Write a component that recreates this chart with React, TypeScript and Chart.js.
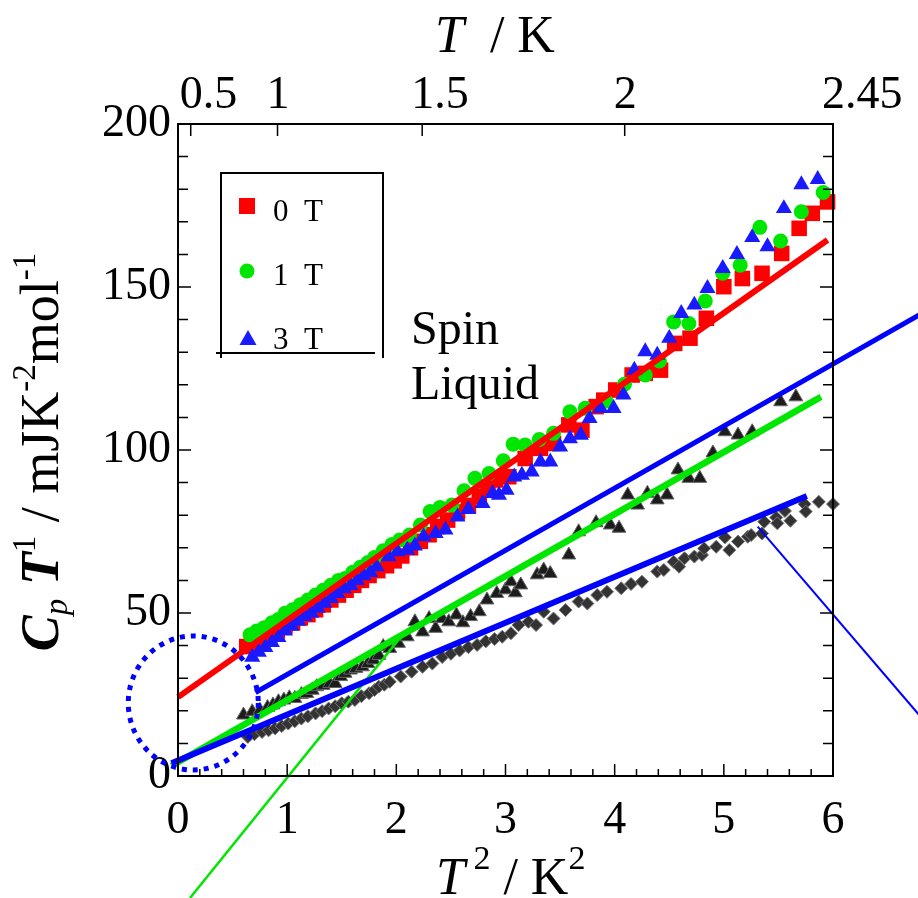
import React, { useEffect, useRef } from "react";
import { Chart, registerables } from "chart.js";

Chart.register(...registerables);

const SERIF = '"Liberation Serif", "Times New Roman", serif';

// ---- Data ----
// 0 T (red squares)
const RED_X = [0.63, 0.70, 0.77, 0.84, 0.91, 0.98, 1.05, 1.12, 1.19, 1.26, 1.33, 1.40, 1.47, 1.54, 1.61, 1.68, 1.75, 1.83, 1.91, 1.98, 2.05, 2.13, 2.22, 2.30, 2.38, 2.47, 2.56, 2.66, 2.76, 2.84, 2.91, 3.03, 3.18, 3.32, 3.44, 3.58, 3.70, 3.83, 3.90, 4.01, 4.16, 4.28, 4.42, 4.55, 4.69, 4.84, 5.00, 5.17, 5.35, 5.53, 5.69, 5.81, 5.95];
const RED_Y = [39.7, 40.5, 41.5, 43, 44.5, 46, 47, 48.5, 49.5, 51, 52.5, 54, 55.5, 57, 58.5, 60, 61.5, 63, 64.5, 66, 67.5, 70, 72, 74, 76.5, 78.5, 81, 83, 85.7, 88.5, 90.8, 91.8, 97.4, 100.5, 102, 107.7, 106.1, 113.3, 115.3, 118.4, 123, 123.5, 124.5, 132.7, 134.3, 140.4, 150.1, 152.6, 154.2, 160.3, 168, 172.6, 176.1];

// 1 T (green circles)
const GREEN_X = [0.66, 0.72, 0.79, 0.86, 0.92, 0.98, 1.05, 1.12, 1.19, 1.26, 1.33, 1.40, 1.47, 1.53, 1.60, 1.67, 1.74, 1.80, 1.88, 1.96, 2.03, 2.12, 2.22, 2.31, 2.40, 2.51, 2.62, 2.72, 2.85, 2.98, 3.07, 3.18, 3.31, 3.44, 3.59, 3.73, 3.92, 4.09, 4.28, 4.41, 4.54, 4.68, 4.83, 4.99, 5.15, 5.33, 5.52, 5.71, 5.91];
const GREEN_Y = [43.3, 44.5, 45.5, 47, 48, 49.9, 51, 52.5, 54, 55.5, 57, 58.5, 60, 60.6, 62.5, 64, 65.5, 67, 69.1, 71, 72.4, 73.9, 77, 81.1, 82.4, 83.1, 87.5, 91.3, 92.8, 96.7, 101.8, 101.5, 103.2, 105.1, 111.7, 112.8, 115, 120.2, 123, 127.3, 139.3, 138.8, 145.7, 154.2, 156.7, 168.3, 164.1, 173.1, 179];

// 3 T (blue triangles)
const BLUE_X = [0.68, 0.74, 0.80, 0.86, 0.92, 0.98, 1.04, 1.10, 1.16, 1.22, 1.28, 1.34, 1.40, 1.46, 1.52, 1.58, 1.64, 1.70, 1.76, 1.82, 1.93, 2.01, 2.10, 2.17, 2.25, 2.36, 2.45, 2.56, 2.66, 2.79, 2.88, 2.94, 3.01, 3.08, 3.15, 3.24, 3.32, 3.41, 3.50, 3.59, 3.69, 3.77, 3.87, 3.99, 4.08, 4.18, 4.28, 4.39, 4.50, 4.61, 4.73, 4.85, 4.99, 5.12, 5.26, 5.40, 5.55, 5.71, 5.86];
const BLUE_Y = [36.5, 38, 39.5, 41, 42.5, 44.5, 46, 47.5, 49, 50, 51.5, 53, 54.5, 56, 57.5, 58.5, 60, 61.5, 62.5, 64.2, 67.3, 68.8, 69.3, 70.6, 73.4, 74.4, 75.5, 79.5, 81.8, 83.6, 86.7, 86.2, 87.7, 91.8, 92.3, 93.3, 96.4, 96.4, 101, 103.5, 104.6, 109.7, 112.8, 112.8, 116.9, 124.5, 130.2, 129.1, 134.3, 141.9, 144.5, 149.6, 155.7, 160, 165.2, 162.4, 174.1, 181.4, 183];

// black triangles (second sample)
const BLACK_X = [0.60, 0.68, 0.75, 0.82, 0.87, 0.92, 0.97, 1.02, 1.07, 1.13, 1.18, 1.23, 1.27, 1.33, 1.39, 1.44, 1.49, 1.53, 1.58, 1.63, 1.69, 1.74, 1.79, 1.84, 1.88, 1.94, 2.02, 2.10, 2.17, 2.24, 2.30, 2.36, 2.42, 2.48, 2.55, 2.61, 2.68, 2.76, 2.83, 2.92, 3.00, 3.05, 3.09, 3.14, 3.29, 3.35, 3.41, 3.58, 3.67, 3.83, 3.96, 4.04, 4.12, 4.21, 4.30, 4.39, 4.48, 4.58, 4.68, 4.78, 4.90, 5.01, 5.13, 5.26, 5.52, 5.66];
const BLACK_Y = [18.7, 19.7, 20.2, 21, 21.8, 22.8, 23.3, 24, 23.8, 25, 25.3, 26.3, 27.4, 27.8, 28.4, 28.4, 30.5, 31.5, 32.5, 33, 33.5, 34.5, 35.6, 37, 39.7, 39.1, 40.7, 42.7, 47.3, 44.2, 48.3, 45.3, 48.3, 47.3, 49.4, 47, 48.9, 50.4, 54, 56, 57.1, 59.6, 56.2, 58.6, 61.7, 63.2, 62.1, 67.8, 74.9, 77.7, 77, 76, 86.2, 83.1, 86.7, 84.7, 86.2, 93.9, 91.3, 91.3, 99.1, 105.6, 104.6, 105.6, 114.8, 116.3];

// grey diamonds (third sample)
const DIAM_X = [0.64, 0.70, 0.77, 0.83, 0.89, 0.95, 1.01, 1.07, 1.13, 1.19, 1.26, 1.32, 1.38, 1.44, 1.50, 1.56, 1.62, 1.68, 1.75, 1.80, 1.84, 1.89, 1.94, 2.04, 2.14, 2.24, 2.33, 2.42, 2.50, 2.58, 2.66, 2.74, 2.82, 2.90, 2.97, 3.05, 3.12, 3.21, 3.28, 3.35, 3.44, 3.55, 3.67, 3.75, 3.84, 3.93, 4.06, 4.15, 4.25, 4.39, 4.45, 4.54, 4.59, 4.64, 4.73, 4.80, 4.82, 4.93, 5.01, 5.05, 5.13, 5.22, 5.25, 5.35, 5.37, 5.48, 5.49, 5.56, 5.61, 5.74, 5.75, 5.87, 6.00];
const DIAM_Y = [12, 12.8, 13.5, 14, 14.6, 15.3, 16.1, 16.8, 17.6, 18.3, 19.2, 19.9, 20.7, 21.4, 22.3, 22.8, 23.3, 24.5, 25.4, 26.4, 27.4, 28, 28.9, 30.5, 32, 33.5, 34.5, 36.5, 37.5, 38.5, 39.5, 40.2, 41.3, 42, 42.7, 43.8, 46.3, 47.3, 46.3, 50.4, 48.3, 50.9, 53.5, 52.9, 55.5, 56.5, 57.6, 58.9, 59.6, 62.7, 63.2, 65.7, 64.2, 66.8, 67.3, 67.8, 69.8, 70.3, 73.2, 69.3, 71.9, 73.4, 73.9, 74.4, 78, 79.3, 77.5, 81.3, 78.3, 83.4, 81.1, 84.1, 83.4];

// fitted / guide lines (end points)
const RED_FIT_X = [0, 5.95];
const RED_FIT_Y = [24.2, 164.4];
const BLUE_UP_X = [0.71, 6.79];
const BLUE_UP_Y = [25.6, 141.4];
const GREEN_FIT_X = [-0.06, 5.89];
const GREEN_FIT_Y = [3.1, 116.3];
const BLUE_LOW_X = [-0.06, 5.76];
const BLUE_LOW_Y = [3.9, 85.9];
const GREEN_THIN_X = [0.11, 2.04];
const GREEN_THIN_Y = [-37.4, 42.6];
const BLUE_THIN_X = [5.31, 6.79];
const BLUE_THIN_Y = [76.5, 18.7];

// axis ticks
const X_TICKS = [0, 1, 2, 3, 4, 5, 6];
const Y_TICKS = [0, 50, 100, 150, 200];
const TOP_TICK_POS = [0.25, 1, 2.25, 4, 5.8]; // in T^2 units
const TOP_TICK_LABELS = ["0.5", "1", "1.5", "2", "2.45"];

const LEGEND_LABELS = ["0  T", "1  T", "3  T"];

const RED = "#ff0000";
const GREEN = "#00e600";
const BLUE = "#0000ff";
const TRI_BLUE = "#1a1aff";

const pts = (xs: number[], ys: number[]) => xs.map((x, i) => ({ x, y: ys[i] }));

function drawRich(ctx: CanvasRenderingContext2D, parts: { t: string; f: string; dy: number }[], x: number, y: number, center: boolean) {
  let total = 0;
  for (const p of parts) {
    ctx.font = p.f;
    total += ctx.measureText(p.t).width;
  }
  let cx = center ? x - total / 2 : x;
  for (const p of parts) {
    ctx.font = p.f;
    ctx.fillText(p.t, cx, y + p.dy);
    cx += ctx.measureText(p.t).width;
  }
}

export default function App() {
  const ref = useRef<HTMLCanvasElement | null>(null);

  useEffect(() => {
    document.body.style.margin = "0";
    const canvas = ref.current!;

    const overlay = {
      id: "overlay",
      afterDraw(chart: any) {
        const { ctx, chartArea: a, scales } = chart;
        const sx = scales.x;
        const sy = scales.y;
        const sx2 = scales.x2;
        ctx.save();

        // dotted circle around the low-T region
        const cx = sx.getPixelForValue(0.14);
        const cy = sy.getPixelForValue(22.4);
        ctx.strokeStyle = BLUE;
        ctx.lineWidth = 5;
        ctx.setLineDash([5, 6]);
        ctx.beginPath();
        ctx.ellipse(cx, cy, 65, 67, 0, 0, Math.PI * 2);
        ctx.stroke();
        ctx.setLineDash([]);

        // frame
        ctx.strokeStyle = "#000";
        ctx.lineWidth = 2;
        ctx.strokeRect(a.left, a.top, a.right - a.left, a.bottom - a.top);

        // inward ticks
        ctx.lineWidth = 1.5;
        ctx.beginPath();
        for (let i = 0; i <= 20; i++) {
          const py = sy.getPixelForValue(i * 10);
          const len = i % 5 === 0 ? 13 : 10;
          ctx.moveTo(a.left, py);
          ctx.lineTo(a.left + len, py);
          ctx.moveTo(a.right, py);
          ctx.lineTo(a.right - len, py);
        }
        for (let i = 0; i <= 30; i++) {
          const px = sx.getPixelForValue(i * 0.2);
          const len = i % 5 === 0 ? 12 : 7;
          ctx.moveTo(px, a.bottom);
          ctx.lineTo(px, a.bottom - len);
        }
        TOP_TICK_POS.forEach((v) => {
          const px = sx2.getPixelForValue(v);
          ctx.moveTo(px, a.top);
          ctx.lineTo(px, a.top + 12);
        });
        ctx.stroke();

        // legend box
        ctx.lineWidth = 2;
        ctx.beginPath();
        ctx.moveTo(221, 358);
        ctx.lineTo(221, 173);
        ctx.lineTo(383, 173);
        ctx.lineTo(383, 358);
        ctx.moveTo(216, 353);
        ctx.lineTo(375, 353);
        ctx.stroke();

        // legend markers
        ctx.fillStyle = RED;
        ctx.fillRect(239, 198, 16, 16);
        ctx.fillStyle = GREEN;
        ctx.beginPath();
        ctx.arc(247, 271, 7.5, 0, Math.PI * 2);
        ctx.fill();
        ctx.fillStyle = TRI_BLUE;
        ctx.beginPath();
        ctx.moveTo(248, 330);
        ctx.lineTo(256.5, 345);
        ctx.lineTo(239.5, 345);
        ctx.closePath();
        ctx.fill();

        ctx.fillStyle = "#000";
        ctx.textBaseline = "alphabetic";
        ctx.textAlign = "left";
        ctx.font = `31px ${SERIF}`;
        ctx.fillText(LEGEND_LABELS[0], 273, 221);
        ctx.fillText(LEGEND_LABELS[1], 273, 285);
        ctx.fillText(LEGEND_LABELS[2], 273, 349);

        // annotation
        ctx.font = `48px ${SERIF}`;
        ctx.fillText("Spin", 411, 344);
        ctx.fillText("Liquid", 411, 399);

        // top title
        drawRich(ctx, [
          { t: "T", f: `italic 52px ${SERIF}`, dy: 0 },
          { t: "  / K", f: `52px ${SERIF}`, dy: 0 },
        ], 435, 52, false);

        // bottom title
        drawRich(ctx, [
          { t: "T", f: `italic 52px ${SERIF}`, dy: 0 },
          { t: " 2", f: `34px ${SERIF}`, dy: -25 },
          { t: " / K", f: `52px ${SERIF}`, dy: 0 },
          { t: "2", f: `34px ${SERIF}`, dy: -25 },
        ], 436, 894, false);

        // y title (rotated)
        ctx.translate(58, 452);
        ctx.rotate(-Math.PI / 2);
        drawRich(ctx, [
          { t: "C", f: `italic bold 54px ${SERIF}`, dy: 0 },
          { t: "p", f: `italic 33px ${SERIF}`, dy: 9 },
          { t: " T", f: `italic bold 54px ${SERIF}`, dy: 0 },
          { t: "1", f: `33px ${SERIF}`, dy: -23 },
          { t: " / mJK", f: `54px ${SERIF}`, dy: 0 },
          { t: "-2", f: `33px ${SERIF}`, dy: -23 },
          { t: "mol", f: `54px ${SERIF}`, dy: 0 },
          { t: "-1", f: `33px ${SERIF}`, dy: -23 },
        ], 0, 0, true);

        ctx.restore();
      },
    };

    const tickFont = { family: SERIF, size: 46 };

    const lineDs = (xs: number[], ys: number[], color: string, w: number) => ({
      type: "scatter" as const,
      data: pts(xs, ys),
      showLine: true,
      fill: false,
      borderColor: color,
      backgroundColor: color,
      borderWidth: w,
      borderCapStyle: "butt" as const,
      pointRadius: 0,
      pointHoverRadius: 0,
      clip: false as any,
      order: 0,
    });

    const chart = new Chart(canvas, {
      type: "scatter",
      data: {
        datasets: [
          {
            label: "diamonds",
            data: pts(DIAM_X, DIAM_Y),
            pointStyle: "rectRot",
            pointRadius: 6.5,
            backgroundColor: "#333333",
            borderColor: "#777777",
            borderWidth: 1,
            clip: false as any,
            order: 7,
          },
          {
            label: "black",
            data: pts(BLACK_X, BLACK_Y),
            pointStyle: "triangle",
            pointRadius: 8,
            backgroundColor: "#1c1c1c",
            borderColor: "#666666",
            borderWidth: 1,
            clip: false as any,
            order: 6,
          },
          {
            label: "0 T",
            data: pts(RED_X, RED_Y),
            pointStyle: "rect",
            pointRadius: 11,
            backgroundColor: RED,
            borderWidth: 0,
            clip: false as any,
            order: 5,
          },
          {
            label: "1 T",
            data: pts(GREEN_X, GREEN_Y),
            pointStyle: "circle",
            pointRadius: 7.5,
            backgroundColor: GREEN,
            borderWidth: 0,
            clip: false as any,
            order: 4,
          },
          {
            label: "3 T",
            data: pts(BLUE_X, BLUE_Y),
            pointStyle: "triangle",
            pointRadius: 9.3,
            backgroundColor: TRI_BLUE,
            borderWidth: 0,
            clip: false as any,
            order: 3,
          },
          lineDs(BLUE_LOW_X, BLUE_LOW_Y, BLUE, 6),
          lineDs(GREEN_FIT_X, GREEN_FIT_Y, GREEN, 6.5),
          lineDs(BLUE_UP_X, BLUE_UP_Y, BLUE, 5),
          lineDs(GREEN_THIN_X, GREEN_THIN_Y, GREEN, 2.5),
          lineDs(BLUE_THIN_X, BLUE_THIN_Y, BLUE, 2),
          lineDs(RED_FIT_X, RED_FIT_Y, RED, 6),
        ] as any,
      },
      options: {
        animation: false,
        responsive: false,
        events: [],
        layout: { padding: { left: 0, right: 85, top: 0, bottom: 0 } },
        plugins: { legend: { display: false }, tooltip: { enabled: false } },
        scales: {
          x: {
            type: "linear",
            position: "bottom",
            min: 0,
            max: 6,
            afterFit: (s: any) => { s.height = 122; },
            afterBuildTicks: (s: any) => { s.ticks = X_TICKS.map((v) => ({ value: v })); },
            grid: { display: false, drawTicks: false },
            border: { display: false },
            ticks: { color: "#000", font: tickFont, padding: 17, maxRotation: 0, autoSkip: false },
          },
          x2: {
            type: "linear",
            position: "top",
            min: 0.14,
            max: 5.8,
            afterFit: (s: any) => { s.height = 124; },
            afterBuildTicks: (s: any) => { s.ticks = TOP_TICK_POS.map((v) => ({ value: v })); },
            grid: { display: false, drawTicks: false },
            border: { display: false },
            ticks: {
              color: "#000",
              font: tickFont,
              padding: 0,
              align: "start",
              labelOffset: -11,
              maxRotation: 0,
              autoSkip: false,
              callback: (_v: any, i: number) => TOP_TICK_LABELS[i],
            },
          },
          y: {
            type: "linear",
            position: "left",
            min: 0,
            max: 200,
            afterFit: (s: any) => { s.width = 178; },
            afterBuildTicks: (s: any) => { s.ticks = Y_TICKS.map((v) => ({ value: v })); },
            grid: { display: false, drawTicks: false },
            border: { display: false },
            ticks: { color: "#000", font: tickFont, padding: 7, autoSkip: false },
          },
        },
      } as any,
      plugins: [overlay],
    });

    return () => chart.destroy();
  }, []);

  return (
    <canvas
      ref={ref}
      width={918}
      height={898}
      style={{ display: "block", width: "918px", height: "898px" }}
    />
  );
}
